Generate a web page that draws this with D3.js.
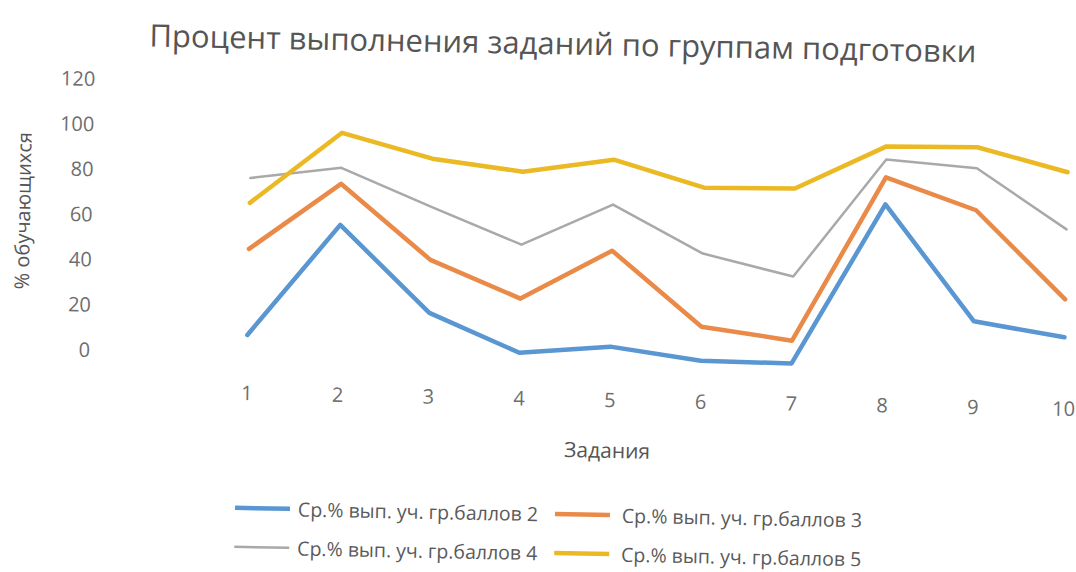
<!DOCTYPE html>
<html>
<head>
<meta charset="utf-8">
<script src="https://cdn.jsdelivr.net/npm/d3@7"></script>
<style>
  body { margin: 0; background: #fff; }
  text { font-family: "Open Sans", "Noto Sans", sans-serif; }
</style>
</head>
<body>
<div id="chart"></div>
<script>
var tasks = ["1", "2", "3", "4", "5", "6", "7", "8", "9", "10"];
var yTicks = [0, 20, 40, 60, 80, 100, 120];
var seriesNames = [
  "Ср.% вып. уч. гр.баллов 2",
  "Ср.% вып. уч. гр.баллов 3",
  "Ср.% вып. уч. гр.баллов 4",
  "Ср.% вып. уч. гр.баллов 5"
];
var group2 = [8, 57.5, 19.3, 2.4, 5.9, 0.4, 0, 71.2, 20.2, 13.9];
var group3 = [46.1, 75.7, 42.8, 26.4, 48.4, 15.5, 10.1, 83.2, 69.4, 30.7];
var group4 = [77.5, 82.8, 66.3, 50.3, 68.8, 47.9, 38.5, 91.1, 88, 61.7];
var group5 = [66.5, 98.3, 87.6, 82.6, 88.7, 77.1, 77.5, 96.9, 97.3, 87];

var colors = ["#5a96d2", "#ea8a48", "#a9a9a9", "#ebb923"];
var widths = [4.5, 4.5, 2.5, 4.5];

var width = 1076, height = 572;
var svg = d3.select("#chart")
  .append("svg")
  .attr("width", width)
  .attr("height", height);

svg.append("rect").attr("width", width).attr("height", height).attr("fill", "#fff");

// the scan is a little turned, so the whole chart is turned too
var g = svg.append("g").attr("transform", "rotate(1.1, 247, 353)");

var x = d3.scalePoint().domain(tasks).range([247, 1064]);
var y = d3.scaleLinear().domain([0, 120]).range([353, 82]);

// title
g.append("text")
  .attr("x", 557).attr("y", 48.5)
  .attr("text-anchor", "middle")
  .attr("font-size", 31)
  .attr("fill", "#555")
  .text("Процент выполнения заданий по группам подготовки");

// y axis
var yAxis = g.append("g")
  .attr("transform", "translate(90,0)")
  .call(d3.axisLeft(y).tickValues(yTicks).tickSize(0).tickPadding(0));
yAxis.select(".domain").remove();
yAxis.selectAll("text").attr("font-size", 20).attr("fill", "#6e6e6e")
  .style("font-family", "'Open Sans', sans-serif");

// x axis
var xAxis = g.append("g")
  .attr("transform", "translate(0," + y(0) + ")")
  .call(d3.axisBottom(x).tickSize(0).tickPadding(33));
xAxis.select(".domain").remove();
xAxis.selectAll("text").attr("font-size", 20).attr("fill", "#6e6e6e")
  .style("font-family", "'Open Sans', sans-serif");

// axis titles
g.append("text")
  .attr("transform", "translate(20,215) rotate(-90)")
  .attr("text-anchor", "middle")
  .attr("dominant-baseline", "central")
  .attr("font-size", 20)
  .attr("fill", "#555")
  .text("% обучающихся");

g.append("text")
  .attr("x", 609).attr("y", 443)
  .attr("text-anchor", "middle")
  .attr("dominant-baseline", "central")
  .attr("font-size", 21)
  .attr("fill", "#555")
  .text("Задания");

// lines
var series = [group2, group3, group4, group5];
var line = d3.line()
  .x((d, i) => x(tasks[i]))
  .y(d => y(d));

g.selectAll("path.series")
  .data(series)
  .enter()
  .append("path")
  .classed("series", true)
  .attr("d", line)
  .attr("fill", "none")
  .attr("stroke", (d, i) => colors[i])
  .attr("stroke-width", (d, i) => widths[i])
  .attr("stroke-linejoin", "round")
  .attr("stroke-linecap", "round");

// legend, two rows of two
var legendX = [238, 558], legendY = [508, 547];
var legend = g.selectAll("g.legend")
  .data(seriesNames)
  .enter()
  .append("g")
  .classed("legend", true)
  .attr("transform", (d, i) => "translate(" + legendX[i % 2] + "," + legendY[Math.floor(i / 2)] + ")");

legend.append("line")
  .attr("x1", 0).attr("x2", 55)
  .attr("stroke", (d, i) => colors[i])
  .attr("stroke-width", (d, i) => widths[i]);

legend.append("text")
  .attr("x", (d, i) => i % 2 ? 67 : 63)
  .attr("dominant-baseline", "central")
  .attr("font-size", 19.5)
  .attr("fill", "#5a5a5a")
  .text(d => d);
</script>
</body>
</html>
